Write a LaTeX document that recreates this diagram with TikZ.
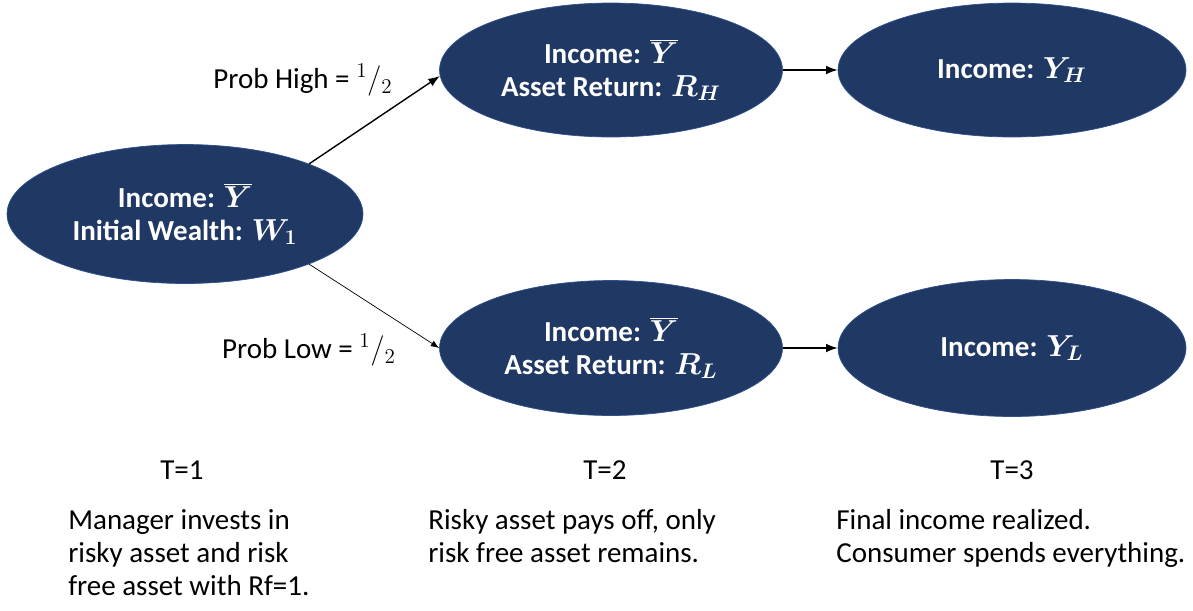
\documentclass[tikz,border=0pt]{standalone}
\usepackage{fontspec}
\setmainfont{Carlito}
\usetikzlibrary{arrows.meta,positioning,shapes.geometric}
\definecolor{navy}{RGB}{32,56,100}
\definecolor{rim}{RGB}{47,82,143}

\begin{document}
\begin{tikzpicture}[x=0.02cm,y=-0.02cm,>=Latex,
  every node/.style={font=\fontsize{16.5}{18.8}\selectfont},
  state/.style={ellipse,fill=navy,draw=rim,thin,inner sep=0pt,text=white,
    align=center,font=\fontsize{16.5}{18.8}\selectfont\bfseries\mathversion{bold}},
  note/.style={align=left,inner sep=0pt,anchor=north west}]
\useasboundingbox (0,0) rectangle (1193,610);
% states
\node[state,minimum width=7.12cm,minimum height=2.78cm] (start) at (185,214)
  {Income: $\overline{Y}$\\Initial Wealth: $W_1$};
\node[state,minimum width=6.86cm,minimum height=2.68cm] (midH) at (611,70)
  {Income: $\overline{Y}$\\Asset Return: $R_H$};
\node[state,minimum width=6.86cm,minimum height=2.7cm] (midL) at (611,348)
  {Income: $\overline{Y}$\\Asset Return: $R_L$};
\node[state,minimum width=6.96cm,minimum height=2.68cm] (endH) at (1012,70)
  {Income: $Y_H$};
\node[state,minimum width=6.96cm,minimum height=2.74cm] (endL) at (1012,348)
  {Income: $Y_L$};
% moves
\draw[->,thick] (start.22) -- (midH.182);
\draw[->] (start.-22) -- (midL.west);
\draw[->,thick] (midH.east) -- (endH.west);
\draw[->,thick] (midL.east) -- (endL.west);
\node (pH) at (303,80) {Prob High = $^{1}/_{2}$};
\node (pL) at (309,350) {Prob Low = $^{1}/_{2}$};
% periods
\node (t1) at (182,470) {T=1};
\node (t2) at (605,470) {T=2};
\node (t3) at (1012,470) {T=3};
\node[note] (d1) at (68,509) {Manager invests in\\risky asset and risk\\free asset with Rf=1.};
\node[note] (d2) at (428,509) {Risky asset pays off, only\\risk free asset remains.};
\node[note] (d3) at (836,509) {Final income realized.\\Consumer spends everything.};
\end{tikzpicture}
\end{document}
